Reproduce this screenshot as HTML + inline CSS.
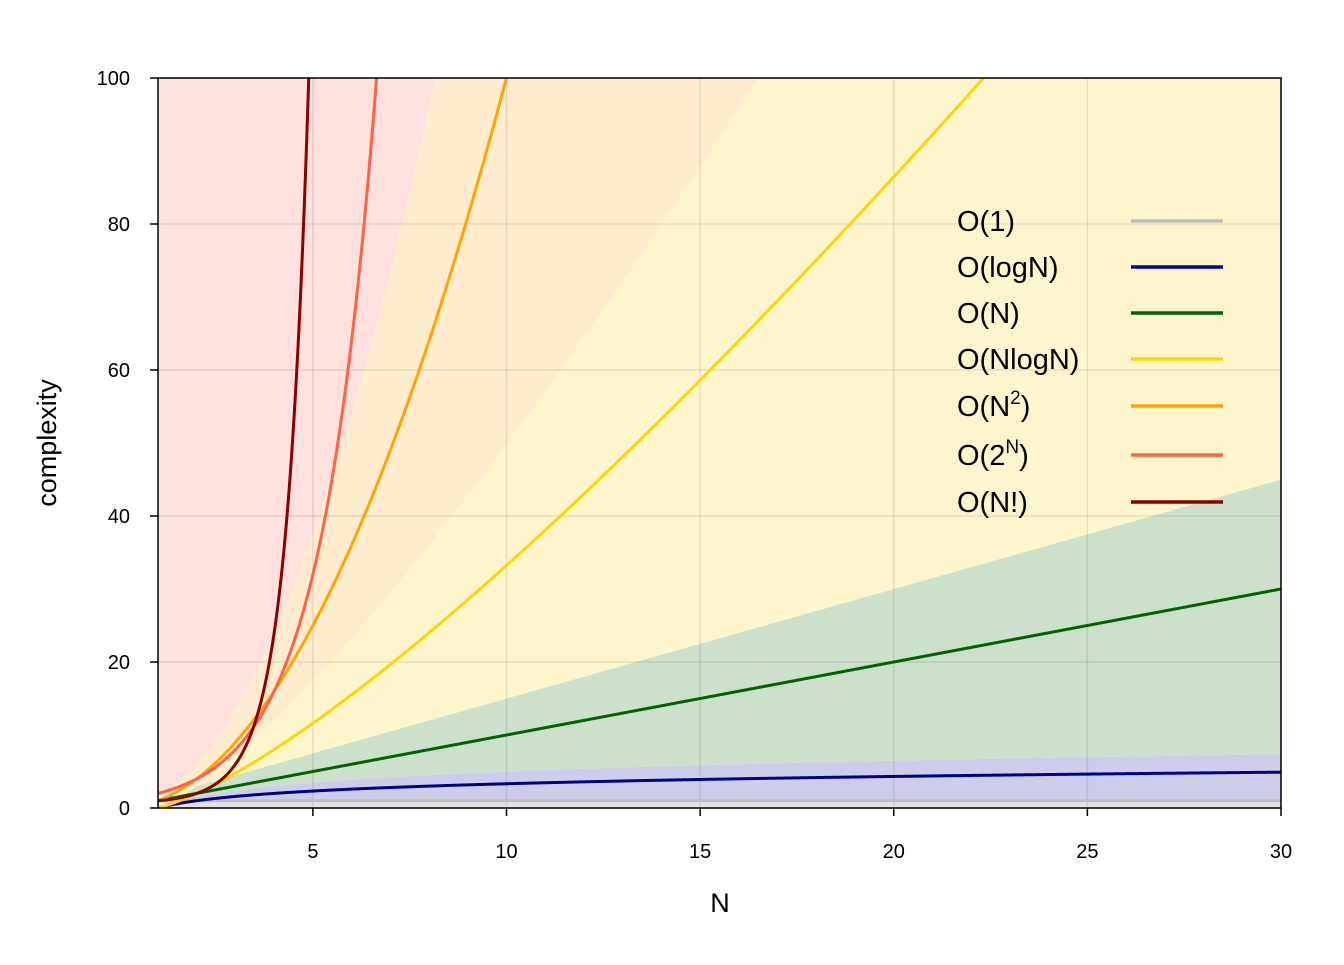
<!DOCTYPE html>
<html><head><meta charset="utf-8"><style>
body{margin:0;background:#fff}
svg text{font-family:"Liberation Sans",sans-serif}
</style></head><body>
<svg id="chart" width="1344" height="960" xmlns="http://www.w3.org/2000/svg">
<defs><clipPath id="clip"><rect x="158" y="78" width="1123" height="730"/></clipPath></defs>
<g id="bands" clip-path="url(#clip)"></g>
<g id="grid"></g>
<g id="curves" clip-path="url(#clip)"></g>
<rect x="158" y="78" width="1123" height="730" fill="none" stroke="#000" stroke-width="1.5"/>
<g id="axes"></g>
<text x="720" y="912" font-size="27" text-anchor="middle">N</text>
<text x="56" y="443" font-size="27" text-anchor="middle" transform="rotate(-90 56 443)">complexity</text>
<g id="legend"></g>
</svg>
<script>
const xTicks=[5,10,15,20,25,30];
const yTicks=[0,20,40,60,80,100];
const seriesNames=["O(1)","O(logN)","O(N)","O(NlogN)","O(N2)","O(2N)","O(N!)"];
const seriesColors=["#bebebe","#00008b","#006400","#ffd700","#ffa500","#ff6347","#8b0000"];
const bandColors=["#e3e3e3","#cdcde9","#cde0cb","#fdf6cc","#feecce","#fee0dc"];
const bandFactor=[1,1.5,1.5,1.5,1.5];
const NS="http://www.w3.org/2000/svg";
const X=n=>158+(n-1)*(1123/29);
const Y=v=>808-v*7.3;
function gamma(z){const g=7,c=[0.99999999999980993,676.5203681218851,-1259.1392167224028,771.32342877765313,-176.61502916214059,12.507343278686905,-0.13857109526572012,9.9843695780195716e-6,1.5056327351493116e-7];
 if(z<0.5)return Math.PI/(Math.sin(Math.PI*z)*gamma(1-z));z-=1;let a=c[0];const t=z+g+0.5;for(let i=1;i<9;i++)a+=c[i]/(z+i);return Math.sqrt(2*Math.PI)*Math.pow(t,z+0.5)*Math.exp(-t)*a;}
const fns=[n=>1,n=>Math.log2(n),n=>n,n=>n*Math.log2(n),n=>n*n,n=>Math.pow(2,n),n=>gamma(n+1)];
function el(tag,attrs,parent){const e=document.createElementNS(NS,tag);for(const k in attrs)e.setAttribute(k,attrs[k]);parent.appendChild(e);return e;}
const ns=[];for(let n=1;n<=30.0001;n+=0.02)ns.push(Math.min(n,30));
// bands
const bands=document.getElementById('bands');
let prev=ns.map(()=>0);
for(let b=0;b<6;b++){
 const top=b<5?ns.map(n=>Math.min(bandFactor[b]*fns[b](n),150)):ns.map(()=>150);
 let d="M"+ns.map((n,i)=>X(n)+","+Y(top[i])).join("L");
 for(let i=ns.length-1;i>=0;i--)d+="L"+X(ns[i])+","+Y(prev[i]);
 const p=el('path',{d:d+"Z",fill:bandColors[b]},bands);
 
 
 prev=top.map((v,i)=>Math.max(v,prev[i]));
}
// grid + axes
const grid=document.getElementById('grid'),axes=document.getElementById('axes');
xTicks.forEach(t=>{
 const l=el('line',{x1:X(t),x2:X(t),y1:78,y2:808,stroke:"rgba(0,0,0,0.09)","stroke-width":1.5},grid);
 
 const tk=el('line',{x1:X(t),x2:X(t),y1:808,y2:816,stroke:"#000","stroke-width":1.5},axes);
 
 const tx=el('text',{x:X(t),y:858,"font-size":20,"text-anchor":t==30?"middle":"middle"},axes);tx.textContent=t;
 
});
yTicks.forEach(t=>{
 const l=el('line',{x1:158,x2:1281,y1:Y(t),y2:Y(t),stroke:"rgba(0,0,0,0.09)","stroke-width":1.5},grid);
 
 const tk=el('line',{x1:150,x2:158,y1:Y(t),y2:Y(t),stroke:"#000","stroke-width":1.5},axes);
 
 const tx=el('text',{x:130,y:Y(t)+7,"font-size":20,"text-anchor":"end"},axes);tx.textContent=t;
 
});
// curves
const curves=document.getElementById('curves');
fns.forEach((f,i)=>{
 const d="M"+ns.map(n=>X(n)+","+Y(Math.min(f(n),200))).join("L");
 const p=el('path',{d:d,fill:"none",stroke:seriesColors[i],"stroke-width":3},curves);
 
});
// legend
const leg=document.getElementById('legend');
const rowsY=[221,267,313,359,406,455,502];
const labels=[["O(1)"],["O(logN)"],["O(N)"],["O(NlogN)"],["O(N","2",")"],["O(2","N",")"],["O(N!)"]];
labels.forEach((lb,i)=>{
 const t=el('text',{x:957,y:rowsY[i]+10,"font-size":29},leg);
 
 if(lb.length===1)t.textContent=lb[0];
 else{const a=el('tspan',{},t);a.textContent=lb[0];const b=el('tspan',{dy:-12,"font-size":19},t);b.textContent=lb[1];const c=el('tspan',{dy:12},t);c.textContent=lb[2];}
 const l=el('line',{x1:1131,x2:1223,y1:rowsY[i],y2:rowsY[i],stroke:seriesColors[i],"stroke-width":3.5},leg);
 
});
</script>
</body></html>
